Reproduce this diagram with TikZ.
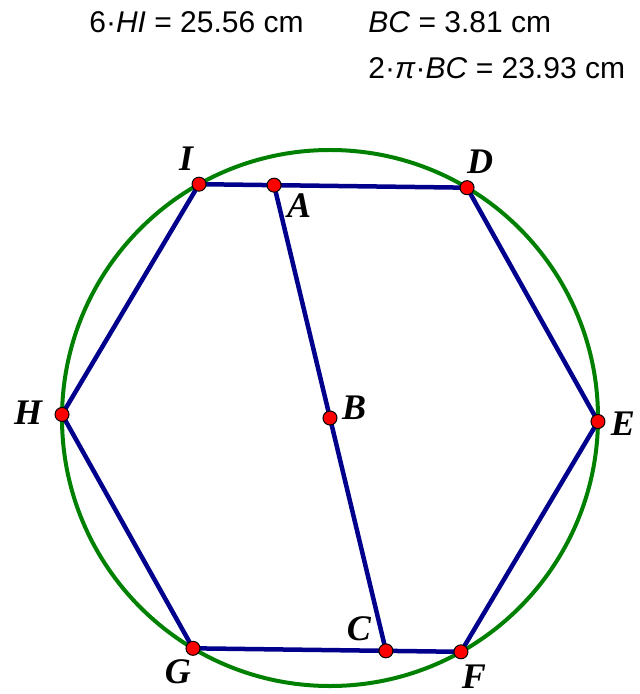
\documentclass[tikz,border=0pt]{standalone}
\usepackage{fontspec}
\setmainfont{Liberation Serif}
\setsansfont{Liberation Sans}
\usetikzlibrary{calc}
\newdimen\unitsize
\setlength{\unitsize}{0.5pt}
\definecolor{circgreen}{RGB}{0,128,0}
\definecolor{hexblue}{RGB}{0,0,140}

\begin{document}
\begin{tikzpicture}[x=\unitsize,y=-\unitsize,
  ptlabel/.style={font=\fontsize{18}{18}\selectfont\bfseries\itshape,inner sep=0pt},
  measure/.style={font=\fontsize{15}{15}\selectfont\sffamily,anchor=base west,inner sep=0pt},
  dot/.style={circle,draw=black,fill=red,inner sep=0pt,minimum size=7pt,line width=0.5pt}]
\useasboundingbox (0,0) rectangle (639,694);
\coordinate (B) at (330,418);
\draw[circgreen,line width=2pt] (B) circle[radius=268];
\foreach \name/\ang in {E/0.75,D/-59.25,I/-119.25,H/-179.25,G/120.75,F/60.75}{
  \coordinate (\name) at ($(B)+(\ang:268)$);
}
\coordinate (A) at ($(I)!0.28!(D)$);
\coordinate (C) at ($(G)!0.72!(F)$);
\draw[hexblue,line width=2.25pt,line join=round] (I) -- (D) -- (E) -- (F) -- (G) -- (H) -- cycle;
\draw[hexblue,line width=2.25pt] (A) -- (C);
\foreach \p in {I,A,D,E,F,C,G,H,B}{
  \node[dot] (dot\p) at (\p) {};
}
\foreach \p/\dx/\dy in {I/-13/-25,D/13/-26,A/25/20,B/24/-10,H/-34/-2,E/25/2,G/-15/23,F/13/25,C/-27/-22}{
  \node[ptlabel] (lab\p) at ($(\p)+(\dx,\dy)$) {\p};
}
\node[measure] (perim) at (89,33) {6·\textit{HI} = 25.56 cm};
\node[measure] (radius) at (368,33) {\textit{BC} = 3.81 cm};
\node[measure] (circum) at (368,79) {2·\textit{π}·\textit{BC} = 23.93 cm};
\end{tikzpicture}
\end{document}
